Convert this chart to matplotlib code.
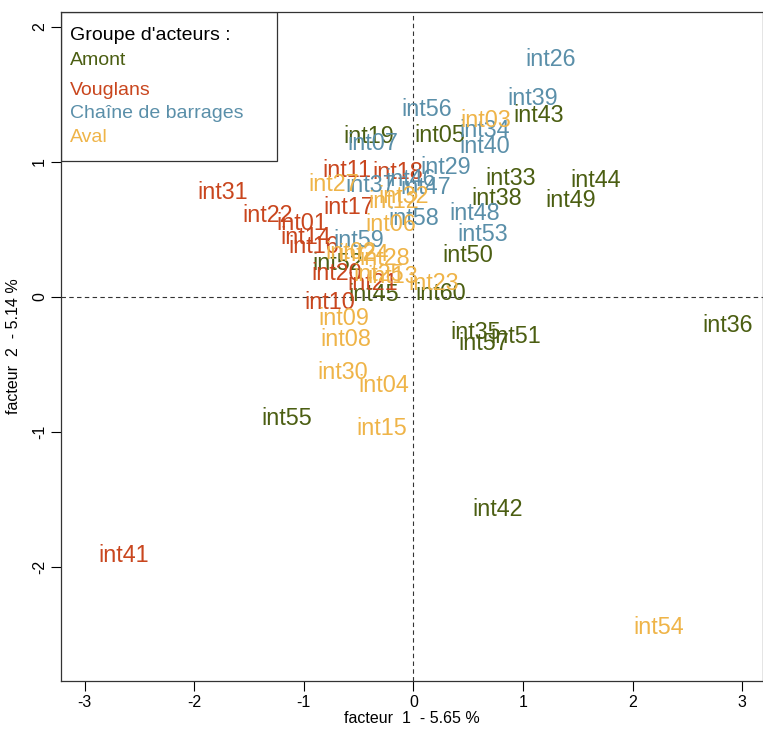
import matplotlib
matplotlib.use("Agg")
import matplotlib.pyplot as plt
from matplotlib.patches import Rectangle

plt.rcParams['font.family'] = ['Liberation Sans', 'DejaVu Sans']

groups = ["Amont", "Vouglans", "Chaîne de barrages", "Aval"]
colors = ["#4b5e12", "#c9461e", "#5a8fa9", "#efb448"]

amont_labels = ["int43", "int05", "int19", "int33", "int38", "int44", "int49", "int50", "int60",
                "int45", "int52", "int35", "int57", "int51", "int36", "int55", "int42"]
amont_x = [1.142, 0.237, -0.411, 0.886, 0.758, 1.662, 1.434, 0.493, 0.247,
           -0.365, -0.694, 0.566, 0.639, 0.932, 2.868, -1.151, 0.767]
amont_y = [1.363, 1.215, 1.207, 0.896, 0.748, 0.881, 0.733, 0.326, 0.044,
           0.037, 0.267, -0.244, -0.326, -0.274, -0.193, -0.881, -1.556]

voug_labels = ["int31", "int22", "int01", "int14", "int16", "int11", "int18", "int17",
               "int20", "int21", "int10", "int41"]
voug_x = [-1.744, -1.333, -1.014, -0.986, -0.913, -0.603, -0.146, -0.594,
          -0.703, -0.374, -0.758, -2.639]
voug_y = [0.793, 0.622, 0.563, 0.459, 0.393, 0.956, 0.941, 0.681,
          0.193, 0.119, -0.022, -1.896]

chaine_labels = ["int26", "int39", "int56", "int34", "int40", "int07", "int29", "int37",
                 "int46", "int47", "int58", "int48", "int53", "int59"]
chaine_x = [1.251, 1.087, 0.119, 0.648, 0.648, -0.374, 0.292, -0.393,
            -0.027, 0.110, 0.0, 0.557, 0.630, -0.502]
chaine_y = [1.778, 1.489, 1.407, 1.252, 1.133, 1.156, 0.978, 0.844,
            0.889, 0.830, 0.600, 0.637, 0.481, 0.437]

aval_labels = ["int03", "int27", "int12", "int32", "int06", "int02", "int24", "int28",
               "int25", "int13", "int23", "int09", "int08", "int30", "int04", "int15", "int54"]
aval_x = [0.658, -0.731, -0.183, -0.091, -0.210, -0.575, -0.457, -0.265,
          -0.320, -0.192, 0.183, -0.639, -0.612, -0.648, -0.274, -0.292, 2.237]
aval_y = [1.326, 0.852, 0.726, 0.763, 0.556, 0.348, 0.333, 0.304,
          0.185, 0.170, 0.119, -0.141, -0.296, -0.541, -0.637, -0.956, -2.430]

x_ticks = [-3, -2, -1, 0, 1, 2, 3]
y_ticks = [-2, -1, 0, 1, 2]

fig = plt.figure(figsize=(7.63, 7.31), dpi=100)
ax = fig.add_axes([0.080, 0.0684, 0.9195, 0.9152])
ax.set_xlim(-3.215, 3.187)
ax.set_ylim(-2.844, 2.111)

ax.axvline(0, color="#333333", lw=0.8, ls=(0, (4, 3)))
ax.axhline(0, color="#333333", lw=0.8, ls=(0, (4, 3)))

series = [(amont_labels, amont_x, amont_y), (voug_labels, voug_x, voug_y),
          (chaine_labels, chaine_x, chaine_y), (aval_labels, aval_x, aval_y)]
for (labs, xs, ys), c in zip(series, colors):
    for lab, x, y in zip(labs, xs, ys):
        ax.text(x, y, lab, color=c, fontsize=16.8, ha="center", va="center_baseline")

ax.set_xticks(x_ticks)
ax.set_yticks(y_ticks)
ax.set_xticklabels([str(v) for v in x_ticks])
ax.set_yticklabels([str(v) for v in y_ticks], rotation=90, va="center")
ax.tick_params(direction="out", length=7, labelsize=11.5, width=0.8, pad=3)
ax.set_xlabel("facteur  1  - 5.65 %", fontsize=11.5, labelpad=1)
ax.set_ylabel("facteur  2  - 5.14 %", fontsize=11.5, labelpad=8)
for s in ax.spines.values():
    s.set_linewidth(0.9)
    s.set_color("#333333")

# legend box
ax.add_patch(Rectangle((0, 1 - 149 / 669), 216 / 702, 149 / 669, transform=ax.transAxes,
                       fill=False, edgecolor="#333333", lw=0.9, zorder=5))
ax.text(9 / 702, 1 - 24 / 669, "Groupe d'acteurs :", transform=ax.transAxes,
        fontsize=14, color="black", va="center", ha="left")
leg_y = [49, 79, 102, 126]
for g, c, yy in zip(groups, colors, leg_y):
    ax.text(9 / 702, 1 - yy / 669, g, transform=ax.transAxes, fontsize=14, color=c,
            va="center", ha="left")

fig.savefig("out.png", dpi=100)
